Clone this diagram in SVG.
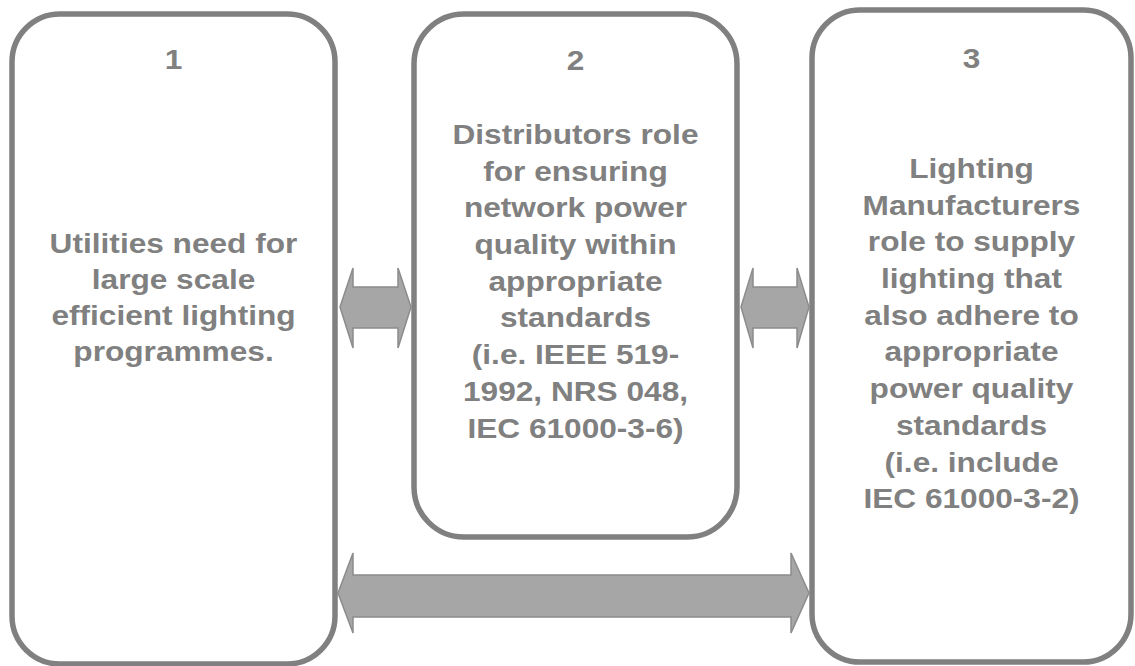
<svg xmlns="http://www.w3.org/2000/svg" width="1135" height="666" viewBox="0 0 1135 666">
<style>
.box{fill:#ffffff;stroke:#808080;stroke-width:5.5}
.t{font-family:"Liberation Sans",Arial,sans-serif;font-weight:bold;font-size:28px;fill:#808080;text-anchor:middle}
.arr{fill:#a6a6a6;stroke:#8c8c8c;stroke-width:1.5;stroke-linejoin:miter}
</style>
<rect width="1135" height="666" fill="#ffffff"/>
<g id="node1">
<rect class="box" x="12" y="14" width="323" height="650" rx="48" ry="48"/>
<g transform="translate(173.5,0) scale(1.13,1)">
<text class="t" x="0" y="69">1</text>
<text class="t" x="0" y="253">Utilities need for</text>
<text class="t" x="0" y="289">large scale</text>
<text class="t" x="0" y="325">efficient lighting</text>
<text class="t" x="0" y="361">programmes.</text>
</g>
</g>
<g id="node2">
<rect class="box" x="414" y="14" width="323" height="523" rx="50" ry="50"/>
<g transform="translate(575.5,0) scale(1.13,1)">
<text class="t" x="0" y="70">2</text>
<text class="t" x="0" y="144">Distributors role</text>
<text class="t" x="0" y="180.7">for ensuring</text>
<text class="t" x="0" y="217.4">network power</text>
<text class="t" x="0" y="254.1">quality within</text>
<text class="t" x="0" y="290.8">appropriate</text>
<text class="t" x="0" y="327.5">standards</text>
<text class="t" x="0" y="364.2">(i.e. IEEE 519-</text>
<text class="t" x="0" y="400.9">1992, NRS 048,</text>
<text class="t" x="0" y="437.6">IEC 61000-3-6)</text>
</g>
</g>
<g id="node3">
<rect class="box" x="812" y="10" width="319" height="652" rx="48" ry="48"/>
<g transform="translate(971.5,0) scale(1.13,1)">
<text class="t" x="0" y="68">3</text>
<text class="t" x="0" y="178">Lighting</text>
<text class="t" x="0" y="214.7">Manufacturers</text>
<text class="t" x="0" y="251.4">role to supply</text>
<text class="t" x="0" y="288.1">lighting that</text>
<text class="t" x="0" y="324.8">also adhere to</text>
<text class="t" x="0" y="361.5">appropriate</text>
<text class="t" x="0" y="398.2">power quality</text>
<text class="t" x="0" y="434.9">standards</text>
<text class="t" x="0" y="471.6">(i.e. include</text>
<text class="t" x="0" y="508.3">IEC 61000-3-2)</text>
</g>
</g>
<g id="connectors">
<polygon class="arr" points="340,307 353,268 353,287 398,287 398,268 411,307 398,348 398,328 353,328 353,348"/>
<polygon class="arr" points="741,307 753,268 753,287 797,287 797,268 809,307 797,348 797,328 753,328 753,348"/>
<polygon class="arr" points="338,593 353,553 353,575 791,575 791,553 809,593 791,633 791,617 353,617 353,633"/>
</g>
</svg>
